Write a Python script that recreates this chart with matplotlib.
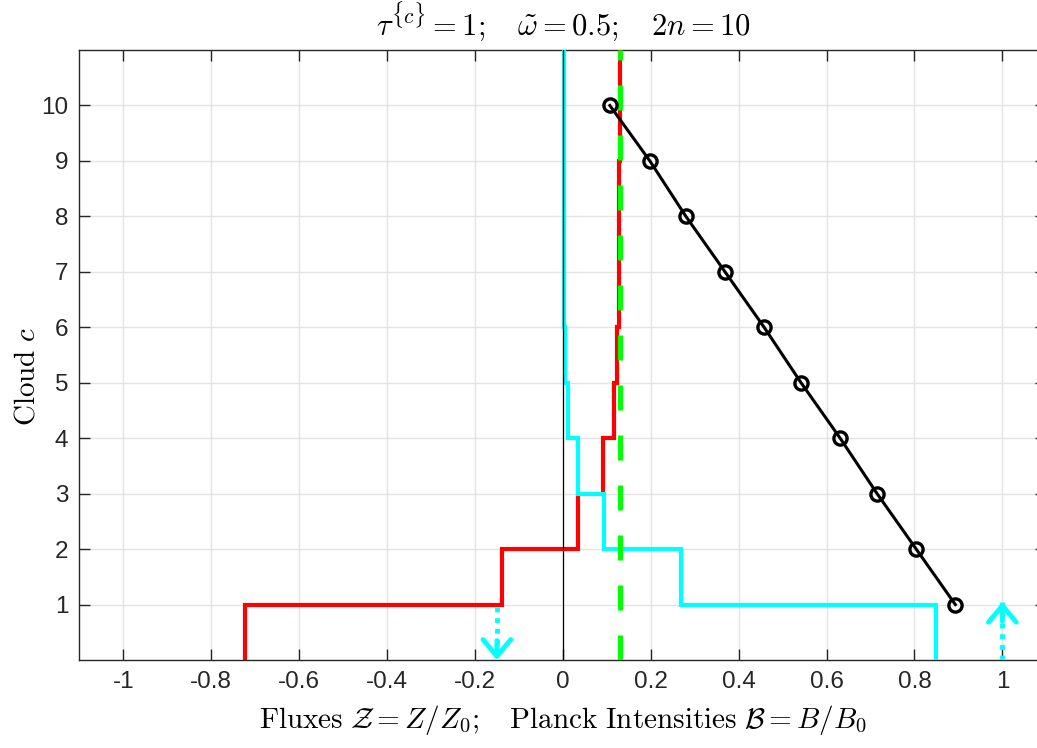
import numpy as np
import matplotlib
matplotlib.use("Agg")
import matplotlib.pyplot as plt

plt.rcParams['mathtext.fontset'] = 'cm'
plt.rcParams['font.family'] = ['Liberation Sans', 'DejaVu Sans']

# ---- data ----
cloud = [1, 2, 3, 4, 5, 6, 7, 8, 9, 10]
planck_B = [0.893, 0.804, 0.715, 0.631, 0.542, 0.458, 0.369, 0.280, 0.198, 0.107]
layer_edges = [0, 1, 2, 3, 4, 5, 6, 7, 8, 9, 10, 11]
flux_red = [-0.723, -0.139, 0.034, 0.092, 0.116, 0.124, 0.127, 0.128, 0.128, 0.129, 0.129]
flux_cyan = [0.849, 0.269, 0.0945, 0.034, 0.0125, 0.005, 0.003, 0.002, 0.002, 0.002, 0.002]
green_x = 0.129
arrow_x = [-0.150, 1.0]
arrow_start = [0.95, 0.0]
arrow_end = [0.0, 1.05]
xticks = [-1, -0.8, -0.6, -0.4, -0.2, 0, 0.2, 0.4, 0.6, 0.8, 1]
xticklabels = ['-1', '-0.8', '-0.6', '-0.4', '-0.2', '0', '0.2', '0.4', '0.6', '0.8', '1']
yticks = [1, 2, 3, 4, 5, 6, 7, 8, 9, 10]

fig = plt.figure(figsize=(10.37, 7.48), dpi=100)
ax = fig.add_axes([0.0765, 0.1176, 0.9325, 0.8155])

ax.set_xlim(-1.1, 1.1)
ax.set_ylim(0, 11)

ax.stairs(flux_red, layer_edges, orientation='horizontal', baseline=None,
          color='red', lw=3.0, zorder=3)
ax.stairs(flux_cyan, layer_edges, orientation='horizontal', baseline=None,
          color='cyan', lw=3.0, zorder=4)
ax.axvline(0, color='black', lw=0.9, zorder=5)
ax.axvline(green_x, color=(0, 1, 0), lw=3.6, linestyle=(0, (5.0, 5.0)), zorder=6)
ax.plot(planck_B, cloud, color='black', lw=2.2, marker='o', ms=9.5, mfc='none',
        mew=2.4, zorder=7)

for x, y0, y1 in zip(arrow_x, arrow_start, arrow_end):
    ax.plot([x, x], [y0, y1], color='cyan', lw=3.5, linestyle=(0, (1, 1.2)), zorder=8)
    d = np.sign(y1 - y0)
    ax.annotate('', xy=(x, y1), xytext=(x, y1 - d * 0.35),
                arrowprops=dict(arrowstyle='->,head_length=0.6,head_width=0.5',
                                lw=3.5, color='cyan', shrinkA=0, shrinkB=0,
                                mutation_scale=20), zorder=8)

ax.set_xticks(xticks)
ax.set_xticklabels(xticklabels)
ax.set_yticks(yticks)
ax.grid(True, color='#e3e3e3', lw=1.0)
ax.set_axisbelow(True)
ax.tick_params(direction='in', length=8, width=1, colors='#262626', labelsize=17.5,
               top=True, right=True, pad=8)
for s in ax.spines.values():
    s.set_color('#262626')
    s.set_linewidth(1.0)

ax.set_title(r'$\tau^{\{c\}} = 1;\quad \tilde{\omega} = 0.5;\quad 2n = 10$',
             fontsize=22, pad=11)
ax.set_xlabel(r'$\mathrm{Fluxes}\ \mathcal{Z} = Z/Z_0;\quad \mathrm{Planck\ Intensities}\ \mathcal{B} = B/B_0$',
              fontsize=21, labelpad=7)
ax.set_ylabel(r'$\mathrm{Cloud}\ c$', fontsize=21)
ax.yaxis.set_label_coords(-0.040, 0.465)

fig.savefig('out.png', dpi=100)
